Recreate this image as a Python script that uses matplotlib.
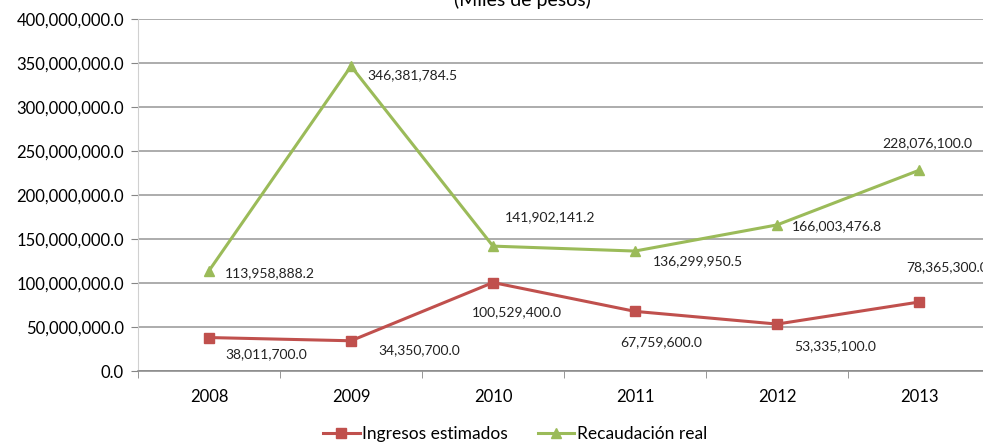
import matplotlib.pyplot as plt
from matplotlib.ticker import FuncFormatter

years = ["2008", "2009", "2010", "2011", "2012", "2013"]
ingresos = [38011700.0, 34350700.0, 100529400.0, 67759600.0, 53335100.0, 78365300.0]
recaudacion = [113958888.2, 346381784.5, 141902141.2, 136299950.5, 166003476.8, 228076100.0]

# label offsets in pixels (dx, dy), hand placed like the original
off_ing = [(57, -17), (68, -9), (24, -30), (26, -31), (58, -22), (28, 35)]
off_rec = [(61, -2), (61, -9), (57, 29), (63, -10), (60, -1), (8, 27)]

plt.rcParams["font.family"] = ["Lato", "DejaVu Sans"]

fig = plt.figure(figsize=(9.83, 4.43), dpi=100)
ax = fig.add_axes([138 / 983, 1 - 371 / 443, 852 / 983, 352 / 443])

x = list(range(len(years)))
red = "#C0504D"
green = "#9BBB59"

ax.plot(x, ingresos, color=red, lw=2.2, marker="s", ms=7, label="Ingresos estimados", zorder=3)
ax.plot(x, recaudacion, color=green, lw=2.2, marker="^", ms=7, label="Recaudación real", zorder=3)

for xi, v, (dx, dy) in zip(x, ingresos, off_ing):
    ax.annotate(f"{v:,.1f}", (xi, v), xytext=(dx, dy), textcoords="offset pixels",
                ha="center", va="center", fontsize=10, color="#222222", annotation_clip=False)
for xi, v, (dx, dy) in zip(x, recaudacion, off_rec):
    ax.annotate(f"{v:,.1f}", (xi, v), xytext=(dx, dy), textcoords="offset pixels",
                ha="center", va="center", fontsize=10, color="#222222", annotation_clip=False)

ax.set_xlim(-0.5, len(years) - 0.5)
ax.set_ylim(0, 400000000)
ax.set_yticks(range(0, 400000001, 50000000))
ax.yaxis.set_major_formatter(FuncFormatter(lambda v, p: f"{v:,.1f}"))
ax.set_xticks(x)
ax.set_xticklabels(years)
ax.set_xticks([i - 0.5 for i in range(len(years) + 1)], minor=True)
ax.tick_params(axis="x", which="major", length=0, pad=13, labelsize=12)
ax.tick_params(axis="x", which="minor", length=5, color="#868686", direction="out")
ax.tick_params(axis="y", length=5, color="#868686", labelsize=12, pad=5)

ax.grid(axis="y", color="#969696", lw=1.1)
ax.set_axisbelow(True)
for s in ["top", "right"]:
    ax.spines[s].set_visible(False)
ax.spines["left"].set_color("#D0D0D0")
ax.spines["bottom"].set_color("#868686")
ax.spines["bottom"].set_linewidth(1.1)

fig.text(522 / 983, 1 - 6 / 443, "(Miles de pesos)", ha="center", va="baseline", fontsize=14)

fig.legend(loc="center", bbox_to_anchor=(515 / 983, 1 - 434 / 443), ncol=2, frameon=False,
           fontsize=12.5, handlelength=2.1, handletextpad=0.15, columnspacing=1.7,
           borderpad=0)

fig.savefig("out.png", dpi=100)
